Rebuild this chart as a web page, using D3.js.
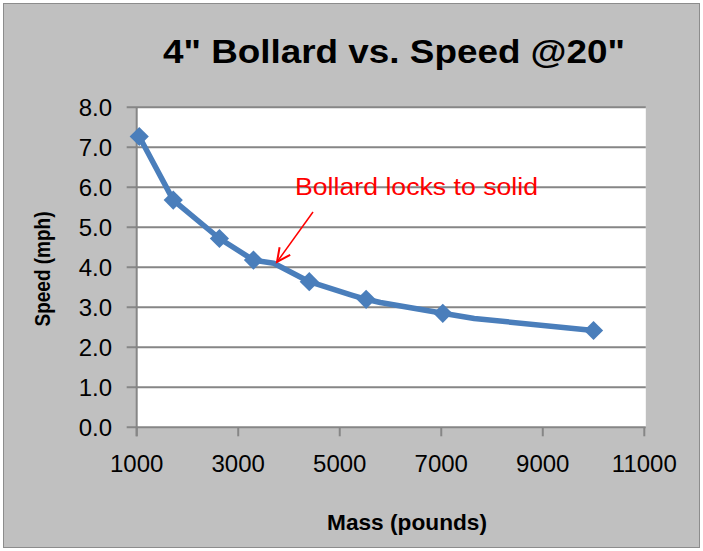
<!DOCTYPE html>
<html><head><meta charset="utf-8">
<script src="https://cdn.jsdelivr.net/npm/d3@7"></script>
<style>body{margin:0;background:#fff}svg{display:block}</style>
</head><body>
<script>
// Data
const massMarkers = [1050, 1720, 2630, 3300, 4400, 5520, 7030, 10000];
const speedMarkers = [7.27, 5.68, 4.72, 4.18, 3.64, 3.20, 2.85, 2.42];
// Line vertices (the plotted line has a few extra bends)
const massLine = [1050, 1720, 2630, 3300, 3700, 4400, 5250, 5520, 5800, 7030, 7650, 10000];
const speedLine = [7.27, 5.68, 4.72, 4.18, 4.10, 3.64, 3.30, 3.20, 3.12, 2.85, 2.72, 2.42];
const xTicks = [1000, 3000, 5000, 7000, 9000, 11000];
const yTicks = [0, 1, 2, 3, 4, 5, 6, 7, 8];
const title = '4" Bollard vs. Speed @20"';
const xTitle = 'Mass (pounds)';
const yTitle = 'Speed (mph)';
const note = 'Bollard locks to solid';

const W = 703, H = 551;
const svg = d3.select('body').append('svg').attr('width', W).attr('height', H);
const font = '"Liberation Sans", Arial, sans-serif';

svg.append('rect').attr('x', 3.5).attr('y', 3.5).attr('width', 696).attr('height', 544)
  .attr('fill', '#c0c0c0').attr('stroke', '#8c8c8c').attr('stroke-width', 1);

const x = d3.scaleLinear().domain([1000, 11000]).range([136.7, 644.3]);
const y = d3.scaleLinear().domain([0, 8]).range([427.3, 107.3]);

svg.append('rect').attr('x', x(1000)).attr('y', y(8)).attr('width', x(11000) - x(1000) + 1.5)
  .attr('height', y(0) - y(8)).attr('fill', '#ffffff');

// gridlines + y ticks
const gy = svg.append('g');
gy.selectAll('line').data(yTicks).join('line')
  .attr('x1', x(1000) - 10).attr('x2', x(11000) + 1.5)
  .attr('y1', d => y(d)).attr('y2', d => y(d))
  .attr('stroke', '#868686').attr('stroke-width', 2);
gy.selectAll('text').data(yTicks).join('text')
  .attr('x', 112).attr('y', d => y(d)).attr('dy', '0.36em')
  .attr('text-anchor', 'end').attr('font-family', font).attr('font-size', 24)
  .attr('fill', '#000').text(d => d3.format('.1f')(d));

// x axis ticks
const gx = svg.append('g');
gx.append('line').attr('x1', x(1000)).attr('x2', x(1000)).attr('y1', y(8)).attr('y2', y(0) + 9)
  .attr('stroke', '#868686').attr('stroke-width', 2);
gx.selectAll('line.t').data(xTicks).join('line').attr('class', 't')
  .attr('x1', d => x(d)).attr('x2', d => x(d)).attr('y1', y(0)).attr('y2', y(0) + 9)
  .attr('stroke', '#868686').attr('stroke-width', 2);
gx.selectAll('text').data(xTicks).join('text')
  .attr('x', d => x(d)).attr('y', 472).attr('text-anchor', 'middle')
  .attr('font-family', font).attr('font-size', 24).attr('fill', '#000').text(d => d);

// series line
const pts = massLine.map((m, i) => [m, speedLine[i]]);
svg.append('path').datum(pts)
  .attr('d', d3.line().x(d => x(d[0])).y(d => y(d[1])))
  .attr('fill', 'none').attr('stroke', '#4a7ebb').attr('stroke-width', 5.5)
  .attr('stroke-linejoin', 'round').attr('stroke-linecap', 'round');

// markers (diamonds)
const mk = massMarkers.map((m, i) => [m, speedMarkers[i]]);
svg.append('g').selectAll('path').data(mk).join('path')
  .attr('d', d3.symbol(d3.symbolDiamond2, 235))
  .attr('transform', d => `translate(${x(d[0])},${y(d[1])})`)
  .attr('fill', '#4a7ebb');

// title
svg.append('text').attr('x', 394).attr('y', 63).attr('text-anchor', 'middle')
  .attr('font-family', font).attr('font-weight', 'bold').attr('font-size', 34)
  .attr('textLength', 462).attr('lengthAdjust', 'spacingAndGlyphs')
  .attr('fill', '#000').text(title);

// axis titles
svg.append('text').attr('x', 407).attr('y', 530).attr('text-anchor', 'middle')
  .attr('font-family', font).attr('font-weight', 'bold').attr('font-size', 22)
  .attr('textLength', 160).attr('lengthAdjust', 'spacingAndGlyphs')
  .attr('fill', '#000').text(xTitle);
svg.append('text').attr('transform', 'translate(50,269) rotate(-90)').attr('text-anchor', 'middle')
  .attr('font-family', font).attr('font-weight', 'bold').attr('font-size', 22)
  .attr('textLength', 115).attr('lengthAdjust', 'spacingAndGlyphs')
  .attr('fill', '#000').text(yTitle);

// annotation
svg.append('text').attr('x', 295).attr('y', 195)
  .attr('font-family', font).attr('font-size', 23)
  .attr('textLength', 243).attr('lengthAdjust', 'spacingAndGlyphs')
  .attr('fill', '#ff0000').text(note);
const ax1 = 313, ay1 = 212, ax2 = 277, ay2 = 262;
svg.append('line').attr('x1', ax1).attr('y1', ay1).attr('x2', ax2).attr('y2', ay2)
  .attr('stroke', '#ff0000').attr('stroke-width', 1.5);
const ang = Math.atan2(ay2 - ay1, ax2 - ax1);
const hl = 15, spread = 0.45;
svg.append('path')
  .attr('d', `M${ax2 - hl * Math.cos(ang - spread)},${ay2 - hl * Math.sin(ang - spread)} L${ax2},${ay2} L${ax2 - hl * Math.cos(ang + spread)},${ay2 - hl * Math.sin(ang + spread)}`)
  .attr('fill', 'none').attr('stroke', '#ff0000').attr('stroke-width', 2);
</script>
</body></html>
